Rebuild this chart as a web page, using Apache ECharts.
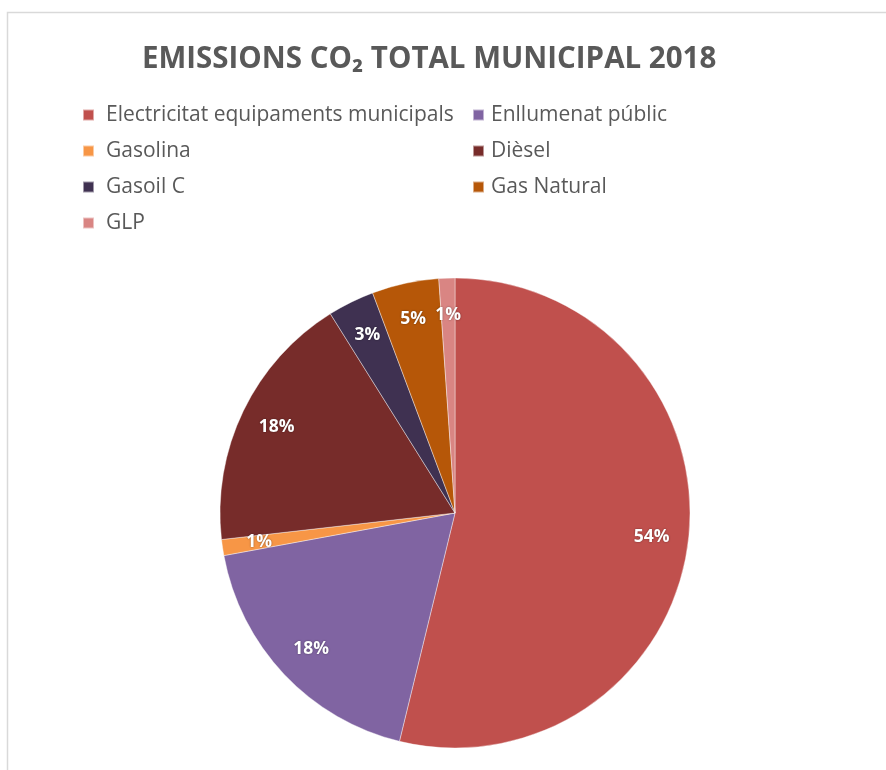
<!DOCTYPE html>
<html>
<head>
<meta charset="utf-8">
<script src="https://cdn.jsdelivr.net/npm/echarts@6/dist/echarts.min.js"></script>
<style>
  html, body { margin: 0; padding: 0; background: #ffffff; }
  #chart { width: 886px; height: 770px; }
</style>
</head>
<body>
<div id="chart"></div>
<script>
// Municipal CO2 emissions by source, 2018 (share of total, %)
const categories = [
  'Electricitat equipaments municipals',
  'Enllumenat públic',
  'Gasolina',
  'Dièsel',
  'Gasoil C',
  'Gas Natural',
  'GLP'
];
const shares = [53.8, 18.3, 1.1, 17.9, 3.2, 4.6, 1.1];
const colors = ['#C0504D', '#8064A2', '#F79646', '#772C2A', '#3F3151', '#B65708', '#D98583'];

const leftLegend = [categories[0], categories[2], categories[4], categories[6]];
const rightLegend = [categories[1], categories[3], categories[5]];

const pieData = categories.map((name, i) => ({
  name: name,
  value: shares[i],
  itemStyle: { color: colors[i] }
}));

const font = '"Open Sans", Lato, sans-serif';
const center = [455, 513];
const R = 235;

function legendColumn(left, textPad, names) {
  return {
    orient: 'vertical',
    left: left,
    top: 103,
    padding: 0,
    itemWidth: 11,
    itemHeight: 11,
    itemGap: 12,
    icon: 'rect',
    selectedMode: false,
    textStyle: { fontFamily: font, fontSize: 21, color: '#595959', lineHeight: 24, padding: [0, 0, 0, textPad] },
    data: names
  };
}

const chart = echarts.init(document.getElementById('chart'), null, { renderer: 'canvas' });
chart.setOption({
  backgroundColor: '#ffffff',
  animation: false,
  title: {
    text: 'EMISSIONS CO₂ TOTAL MUNICIPAL 2018',
    left: 137,
    top: 40,
    textStyle: { fontFamily: font, fontSize: 29.5, fontWeight: 'bold', color: '#595959' }
  },
  legend: [
    legendColumn(82, 7, leftLegend),
    legendColumn(472, 2, rightLegend)
  ],
  graphic: [{
    type: 'rect',
    silent: true,
    shape: { x: 7.5, y: 12.5, width: 900, height: 800 },
    style: { fill: 'none', stroke: '#d9d9d9', lineWidth: 1.5 }
  }],
  series: [
    {
      type: 'pie',
      center: center,
      radius: [0, R],
      startAngle: 90,
      clockwise: true,
      label: { show: false },
      labelLine: { show: false },
      itemStyle: { borderColor: 'rgba(255,255,255,0.5)', borderWidth: 0.8 },
      emphasis: { disabled: true },
      data: pieData
    },
    {
      // transparent ring that carries the percentage labels near the rim
      type: 'pie',
      center: center,
      radius: [R * 0.66, R],
      startAngle: 90,
      clockwise: true,
      silent: true,
      percentPrecision: 0,
      itemStyle: { color: 'rgba(0,0,0,0)' },
      emphasis: { disabled: true },
      label: {
        show: true,
        position: 'inside',
        formatter: '{d}%',
        fontFamily: font,
        fontSize: 17.5,
        fontWeight: 'bold',
        color: '#ffffff',
        textShadowColor: 'rgba(0,0,0,0.45)',
        textShadowBlur: 2
      },
      labelLine: { show: false },
      data: pieData.map(d => ({ name: d.name, value: d.value }))
    }
  ]
});
</script>
</body>
</html>
